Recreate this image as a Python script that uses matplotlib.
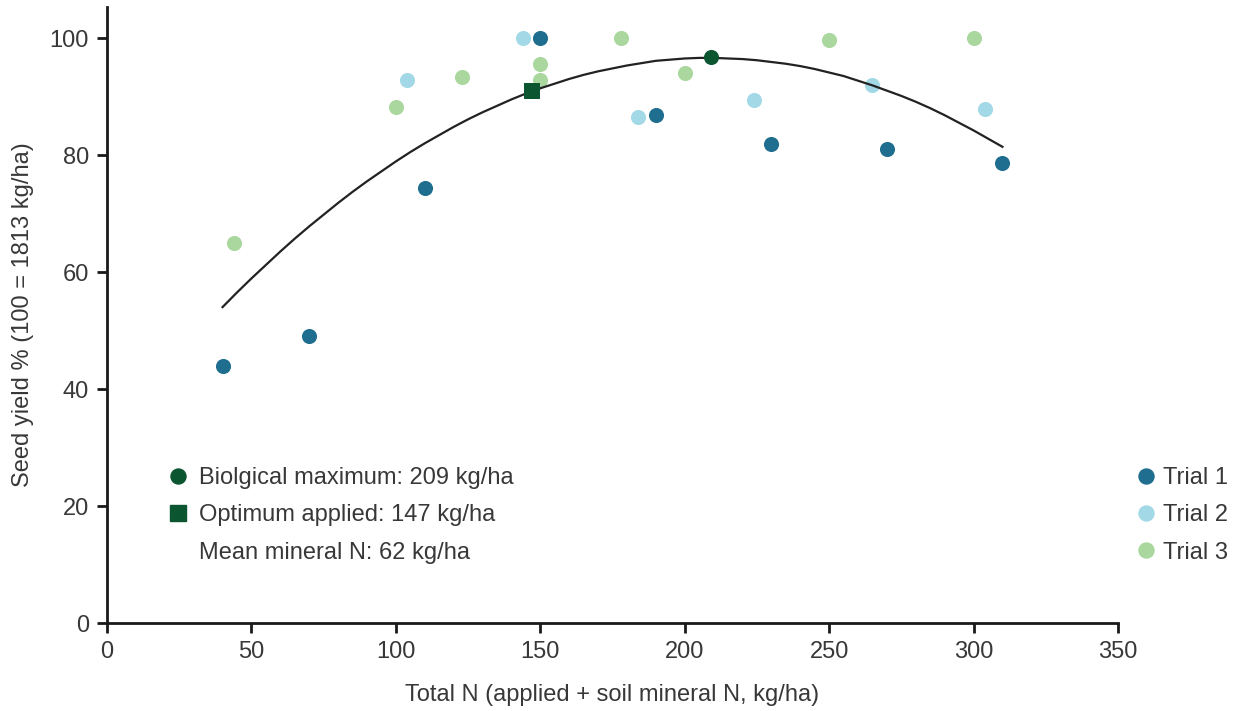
import matplotlib
matplotlib.use("Agg")
import matplotlib.pyplot as plt
from matplotlib.lines import Line2D

plt.rcParams['font.family'] = ['Liberation Sans', 'DejaVu Sans']

# Data
trial1_x = [40, 70, 110, 150, 190, 230, 270, 310]
trial1_y = [44.0, 49.0, 74.3, 100.0, 86.8, 81.8, 81.0, 78.7]
trial2_x = [104, 144, 184, 224, 265, 304]
trial2_y = [92.8, 100.0, 86.5, 89.4, 92.0, 87.8]
trial3_x = [44, 100, 123, 150, 150, 178, 200, 250, 300]
trial3_y = [64.9, 88.2, 93.4, 95.5, 92.8, 100.0, 94.1, 99.7, 100.0]

curve_x = [40, 45, 50, 55, 60, 65, 70, 75, 80, 85, 90, 95, 100, 105, 110,
           115, 120, 125, 130, 135, 140, 145, 150, 155, 160, 165, 170, 175,
           180, 185, 190, 195, 200, 205, 210, 215, 220, 225, 230, 235, 240,
           245, 250, 255, 260, 265, 270, 275, 280, 285, 290, 295, 300, 305, 310]
curve_y = [54.0, 56.5, 58.9, 61.2, 63.5, 65.7, 67.8, 69.8, 71.8, 73.7, 75.5,
           77.2, 78.9, 80.5, 82.0, 83.4, 84.8, 86.1, 87.3, 88.4, 89.5, 90.5,
           91.4, 92.2, 93.0, 93.7, 94.3, 94.8, 95.3, 95.7, 96.1, 96.3, 96.5,
           96.6, 96.6, 96.5, 96.4, 96.2, 95.9, 95.6, 95.2, 94.7, 94.1, 93.5,
           92.7, 91.9, 91.0, 90.1, 89.1, 88.0, 86.8, 85.5, 84.2, 82.8, 81.4]

bio_max_x, bio_max_y = [209], [96.7]
opt_x, opt_y = [147], [91.0]

trial_labels = ["Trial 1", "Trial 2", "Trial 3"]
info_labels = ["Biolgical maximum: 209 kg/ha", "Optimum applied: 147 kg/ha",
               "Mean mineral N: 62 kg/ha"]
x_ticks = [0, 50, 100, 150, 200, 250, 300, 350]
y_ticks = [0, 20, 40, 60, 80, 100]

c1, c2, c3 = "#1f6e8f", "#a3d9e7", "#a9d79e"
dark_green = "#0b5530"
text_col = "#383838"
fs = 17

fig = plt.figure(figsize=(12.36, 7.11), dpi=100)
ax = fig.add_axes([107/1236, 1 - 623/711, (1118-107)/1236, (623-7)/711])

ms = 118
ax.scatter(trial1_x, trial1_y, s=ms, color=c1, zorder=3, linewidths=0)
ax.scatter(trial2_x, trial2_y, s=ms, color=c2, zorder=3, linewidths=0)
ax.scatter(trial3_x, trial3_y, s=ms, color=c3, zorder=3, linewidths=0)
ax.plot(curve_x, curve_y, color="#222222", lw=1.6, zorder=4)
ax.scatter(bio_max_x, bio_max_y, s=ms, color=dark_green, marker='o', zorder=5, linewidths=0)
ax.scatter(opt_x, opt_y, s=140, color=dark_green, marker='s', zorder=5, linewidths=0)

ax.set_xlim(0, 350)
ax.set_ylim(0, 105.3)
ax.set_xticks(x_ticks)
ax.set_yticks(y_ticks)
for s in ["top", "right"]:
    ax.spines[s].set_visible(False)
for s in ["left", "bottom"]:
    ax.spines[s].set_linewidth(2)
    ax.spines[s].set_color("#1a1a1a")
ax.tick_params(axis='both', length=7, width=2, color="#1a1a1a",
               labelsize=fs, labelcolor=text_col, pad=6)

ax.set_xlabel("Total N (applied + soil mineral N, kg/ha)", fontsize=fs,
              color=text_col, labelpad=15)
ax.set_ylabel("Seed yield % (100 = 1813 kg/ha)", fontsize=fs,
              color=text_col, labelpad=11)

info_handles = [
    Line2D([], [], marker='o', ls='none', color=dark_green, markersize=10.8),
    Line2D([], [], marker='s', ls='none', color=dark_green, markersize=11),
    Line2D([], [], marker='none', ls='none'),
]
leg1 = ax.legend(info_handles, info_labels, loc='upper left',
                 bbox_to_anchor=(0.052, 0.268), frameon=False, fontsize=fs,
                 labelcolor=text_col, handlelength=0.8, handletextpad=0.45,
                 labelspacing=0.64, borderaxespad=0)
ax.add_artist(leg1)

trial_handles = [Line2D([], [], marker='o', ls='none', color=c, markersize=10.8)
                 for c in (c1, c2, c3)]
ax.legend(trial_handles, trial_labels, loc='upper left',
          bbox_to_anchor=(1.009, 0.268), frameon=False, fontsize=fs,
          labelcolor=text_col, handlelength=0.8, handletextpad=0.32,
          labelspacing=0.64, borderaxespad=0)

fig.savefig("out.png", dpi=100)
